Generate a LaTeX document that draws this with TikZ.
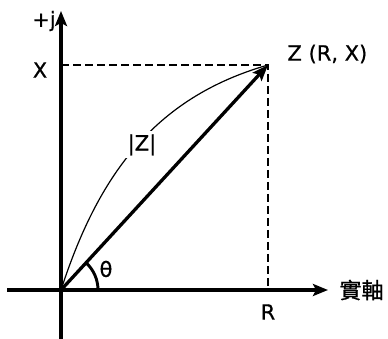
\documentclass[tikz,border=0pt]{standalone}
\usepackage{fontspec}
\setmainfont{DejaVu Sans}[UprightFeatures={FakeBold=0.6}]
\newfontfamily\cjk{Noto Sans CJK TC}[UprightFeatures={FakeBold=1}]
\usetikzlibrary{arrows.meta}

\tikzset{
  axis/.style={line width=3.1pt,-{Stealth[length=15pt,width=12pt,inset=3pt]}},
  proj/.style={line width=2.9pt,dash pattern=on 8pt off 4pt},
  lbl/.style={font=\fontsize{21}{24}\selectfont}
}

\begin{document}
\begin{tikzpicture}[x=1pt,y=1pt]
  \useasboundingbox (0,0) rectangle (388,339);
  % punkty
  \coordinate (O) at (61,49);
  \coordinate (Z) at (268,274);
  \coordinate (Xp) at (61,274);
  \coordinate (Rp) at (268,49);
  \coordinate (ytop) at (61,328);
  \coordinate (ybot) at (61,0);
  \coordinate (xl) at (7,49);
  \coordinate (xr) at (328,49);
  % osie
  \draw[axis] (ybot) -- (ytop);
  \draw[axis] (xl) -- (xr);
  % rzuty
  \draw[proj] (Xp) -- (Z) -- (Rp);
  % luk |Z|
  \draw[line width=1.2pt] (O) to[out=72,in=196] (Z);
  \node[lbl,fill=white,inner sep=3pt] (lmod) at (142,194) {|Z|};
  % wektor
  \draw[line width=3.3pt,-{Stealth[length=16pt,width=12pt,inset=3pt]}] (O) -- (Z);
  % kat
  \draw[line width=2.9pt] ([shift={(37,0)}]O) arc (0:47:37);
  % opisy
  \node[lbl] (pj) at (44,318) {+j};
  \node[lbl] (lx) at (40,269) {X};
  \node[lbl,anchor=west] (lz) at (284,285) {Z (R, X)};
  \node[lbl] (lr) at (268,27) {R};
  \node[lbl] (lth) at (106,70) {θ};
  \node[lbl,anchor=west] (lre) at (336,49) {\cjk\fontsize{22}{24}\selectfont 實軸};
\end{tikzpicture}
\end{document}
